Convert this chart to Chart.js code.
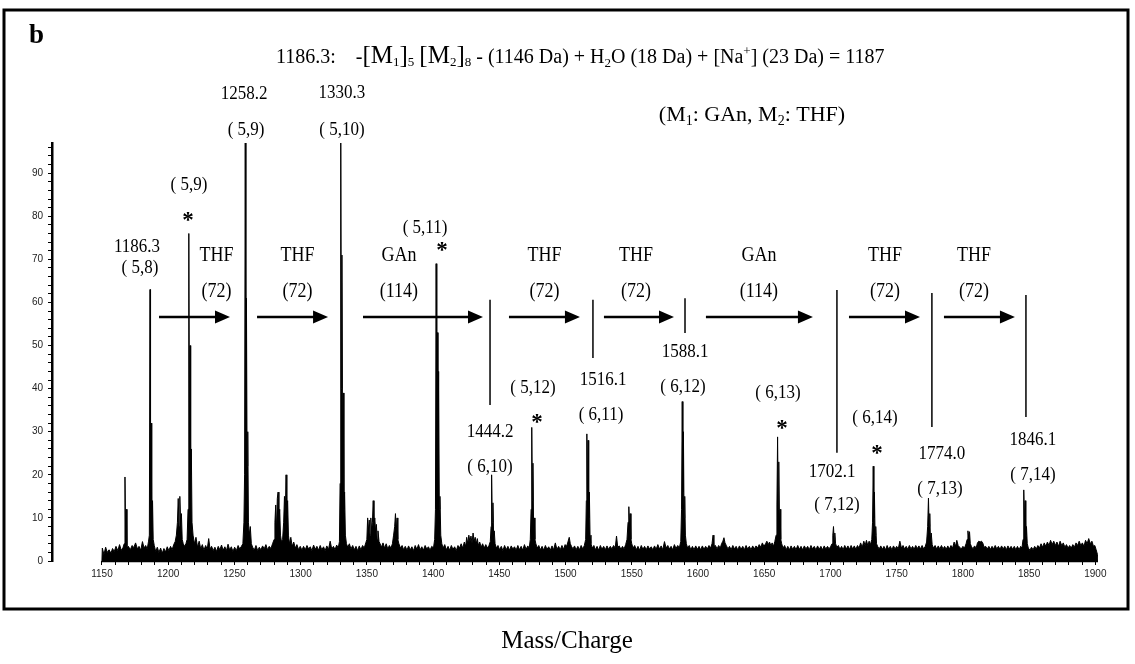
<!DOCTYPE html>
<html>
<head>
<meta charset="utf-8">
<script src="https://cdn.jsdelivr.net/npm/chart.js"></script>
<style>
  html, body { margin: 0; padding: 0; background: #fff; }
</style>
</head>
<body>
<canvas id="espectro" width="1135" height="664"></canvas>
<script>
// Trazas del espectro [m/z, intensidad %] leídas tramo a tramo
const trace1150 = [[1150,0],[1150.3,3],[1151.5,1.5],[1152.8,3.2],[1154,2],[1155.4,2.6],[1156.8,1.8],[1158,2.9],[1159.3,2.2],[1160.6,3.4],[1162,2.4],[1163.3,3.8],[1164.6,2.5],[1165.8,3],[1166.8,4],[1167.4,19.5],[1167.9,6],[1168.4,12],[1168.9,3],[1170,3.4],[1171.4,2.6],[1172.8,3.6],[1174,3.1],[1175.4,4.2],[1176.8,2.8],[1178,3.4],[1179.3,2.5],[1180.6,4.5],[1181.8,3],[1183,3.6],[1184.2,2.8],[1185.2,4.6],[1185.8,6],[1186.3,63],[1186.7,10],[1187.2,32],[1187.6,8],[1188.2,14],[1188.7,5],[1189.5,3.6],[1190.6,2.2],[1191.8,3.2],[1193,2],[1194.3,3],[1195.5,1.8],[1196.8,2.9],[1198,2.1],[1199.3,3.3]];
const trace1200 = [[1200.5,2.4],[1201.8,3.4],[1203,2.6],[1204.2,3.8],[1205.3,4.5],[1206.2,6],[1207,9],[1207.6,14.5],[1208.2,8],[1208.8,15],[1209.4,9],[1210,11],[1210.6,5],[1211.4,4],[1212.4,3.4],[1213.4,4],[1214.3,5],[1215,12],[1215.6,76],[1216.1,26],[1216.5,50],[1217,20],[1217.5,26],[1218,9],[1218.8,6],[1219.8,4],[1221,5.5],[1222.2,3.2],[1223.4,4.6],[1224.6,2.8],[1225.8,3.8],[1227,2.5],[1228.3,3.6],[1229.5,2.7],[1230.6,5.2],[1231.6,2.8],[1232.8,3.4],[1234,2.4],[1235.3,3.2],[1236.5,2.2],[1237.8,3.4],[1239,2.6],[1240.3,3.7],[1241.5,2.5],[1242.8,3.3],[1244,2.4],[1245.2,3.9],[1246.4,2.6],[1247.7,3.3],[1248.9,2.2]];
const trace1250 = [[1250.2,3.2],[1251.5,2.4],[1252.8,3.6],[1254,2.8],[1255.3,3.4],[1256.4,4],[1257.2,9],[1257.7,20],[1258.2,100],[1258.7,30],[1259.1,61],[1259.6,22],[1260.1,30],[1260.6,9],[1261.2,6],[1262,8],[1262.8,4],[1263.8,3.2],[1265,2.5],[1266.3,3.6],[1267.6,2.4],[1268.8,3.2],[1270,2.6],[1271.3,3.5],[1272.5,2.8],[1273.8,3.8],[1275,2.6],[1276.3,3.4],[1277.6,2.9],[1278.8,4],[1280,5],[1280.6,9],[1281.2,13],[1281.8,7],[1282.4,14.5],[1283,16],[1283.6,9],[1284.2,12],[1284.8,6],[1285.5,4.5],[1286.4,5],[1287.2,9],[1287.8,15],[1288.4,10],[1289,20],[1289.6,11],[1290.2,14],[1290.8,6],[1291.6,4],[1292.6,5.5],[1293.6,3.4],[1294.8,4.4],[1296,3],[1297.2,3.8],[1298.5,2.6],[1299.7,3.4]];
const trace1300 = [[1301,2.5],[1302.2,3.4],[1303.5,2.6],[1304.8,3.6],[1306,2.8],[1307.3,3.3],[1308.5,2.4],[1309.8,3.7],[1311,2.7],[1312.3,3.4],[1313.5,2.5],[1314.8,3.6],[1316,2.6],[1317.3,3.3],[1318.5,2.4],[1319.8,3.5],[1321,2.6],[1322.3,4.6],[1323.5,2.8],[1324.8,3.4],[1326,2.6],[1327.2,3.7],[1328.4,3],[1329.3,4.5],[1329.8,18],[1330.3,100],[1330.8,40],[1331.2,71],[1331.7,25],[1332.2,39],[1332.7,12],[1333.2,16],[1333.8,6],[1334.6,4],[1335.6,3.2],[1336.8,4],[1338,2.8],[1339.3,3.6],[1340.5,2.6],[1341.8,3.4],[1343,2.4],[1344.3,3.5],[1345.5,2.6],[1346.8,3.6],[1348,3],[1349.2,4.2]];
const trace1350 = [[1350,5],[1350.6,10],[1351.2,7],[1351.8,9.5],[1352.4,6],[1353,10],[1353.6,7],[1354.2,9],[1354.8,14],[1355.4,8],[1356,10],[1356.6,7],[1357.2,8.5],[1357.8,5],[1358.4,7],[1359.2,4.5],[1360,4],[1361,3.2],[1362.2,4.2],[1363.4,3],[1364.6,4],[1365.8,2.8],[1367,3.6],[1368.2,3],[1369.3,4],[1370.2,6],[1371,8],[1371.6,11],[1372.2,7],[1372.8,10],[1373.4,5],[1374.2,4],[1375.4,3],[1376.6,3.6],[1377.8,2.6],[1379,3.4],[1380.3,2.5],[1381.5,3.5],[1382.8,2.6],[1384,3.3],[1385.3,2.4],[1386.5,3.6],[1387.8,2.7],[1389,3.8],[1390.2,2.6],[1391.5,3.3],[1392.7,2.5],[1394,3.6],[1395.2,2.8],[1396.5,3.3],[1397.7,2.5],[1399,3.4]];
const trace1400 = [[1400.3,3],[1401.2,5],[1401.8,12],[1402.3,69],[1402.8,30],[1403.2,53],[1403.7,20],[1404.2,44],[1404.7,12],[1405.2,15],[1405.8,6],[1406.6,4],[1407.6,3],[1408.8,3.8],[1410,2.6],[1411.3,3.4],[1412.5,2.5],[1413.8,3.6],[1415,2.7],[1416.3,3.3],[1417.5,2.4],[1418.8,3.6],[1420,3],[1421.2,4],[1422.4,3],[1423.6,4.4],[1424.6,3.4],[1425.4,5.5],[1426.2,4],[1427,6],[1427.8,4.5],[1428.6,5.8],[1429.4,4.2],[1430.2,6.5],[1431,4.6],[1431.8,5.5],[1432.6,4],[1433.4,5.2],[1434.2,3.6],[1435.2,4.4],[1436.3,3.2],[1437.4,4],[1438.6,3],[1439.8,3.8],[1441,3],[1442.2,3.6],[1443.2,4.5],[1443.8,8],[1444.2,20],[1444.7,9],[1445.2,13.5],[1445.7,6],[1446.2,7],[1446.8,4],[1447.8,3],[1449,3.6]];
const trace1450 = [[1450.2,2.6],[1451.5,3.4],[1452.7,2.4],[1454,3.6],[1455.2,2.6],[1456.5,3.4],[1457.7,2.5],[1459,3.5],[1460.2,2.8],[1461.5,3.3],[1462.7,2.5],[1464,3.6],[1465.2,2.6],[1466.5,3.4],[1467.7,2.5],[1469,3.8],[1470.2,2.7],[1471.5,3.5],[1472.6,3],[1473.4,5],[1474,12],[1474.5,31],[1475,14],[1475.4,22.7],[1475.9,8],[1476.4,10],[1476.9,5],[1477.6,4],[1478.6,3],[1479.8,3.6],[1481,2.6],[1482.3,3.4],[1483.5,2.5],[1484.8,3.6],[1486,2.7],[1487.3,3.3],[1488.5,2.5],[1489.8,3.5],[1491,2.6],[1492.3,4.2],[1493.5,2.7],[1494.8,3.4],[1496,2.6],[1497.3,3.6],[1498.5,2.7],[1499.7,3.8]];
const trace1500 = [[1500.8,3.4],[1501.8,4.4],[1502.8,5.5],[1503.6,4],[1504.5,3.4],[1505.6,2.8],[1506.8,3.5],[1508,2.6],[1509.3,3.4],[1510.5,2.6],[1511.8,3.6],[1513,2.8],[1514.2,3.6],[1515.2,5],[1515.7,14],[1516.1,29.5],[1516.6,13],[1517,28],[1517.5,10],[1518,16],[1518.5,6],[1519.2,4],[1520.2,3],[1521.4,3.6],[1522.6,2.6],[1523.8,3.4],[1525,2.5],[1526.3,3.6],[1527.5,2.7],[1528.8,3.4],[1530,2.6],[1531.3,3.5],[1532.5,2.7],[1533.8,3.4],[1535,2.8],[1536.3,3.6],[1537.5,3],[1538.5,5.8],[1539.4,3.2],[1540.6,3.5],[1541.8,2.7],[1543,3.4],[1544.2,2.8],[1545.4,3.8],[1546.4,5],[1547.2,9],[1547.8,12.6],[1548.3,8],[1548.8,11],[1549.4,5],[1550,4]];
const trace1550 = [[1551,3],[1552.2,3.6],[1553.4,2.6],[1554.7,3.4],[1555.9,2.5],[1557.2,3.6],[1558.4,2.7],[1559.7,3.4],[1560.9,2.6],[1562.2,3.5],[1563.4,2.8],[1564.7,3.3],[1565.9,2.6],[1567.2,3.5],[1568.4,2.7],[1569.7,3.8],[1570.9,2.8],[1572.2,3.5],[1573.4,2.6],[1574.7,4.5],[1575.9,3],[1577.2,3.6],[1578.4,2.8],[1579.7,3.4],[1580.9,2.6],[1582.2,3.8],[1583.4,2.9],[1584.7,3.6],[1585.9,3],[1587,4.5],[1587.6,12],[1588.1,37],[1588.6,16],[1589,30],[1589.5,10],[1590,15],[1590.5,6],[1591.2,4],[1592.2,3],[1593.4,3.6],[1594.6,2.6],[1595.8,3.4],[1597,2.6],[1598.3,3.5],[1599.5,2.7]];
const trace1600 = [[1600.8,3.4],[1602,2.6],[1603.3,3.5],[1604.5,2.7],[1605.8,3.4],[1607,2.8],[1608.3,3.6],[1609.5,3],[1610.6,4],[1611.4,6],[1612,3.4],[1613.2,3.6],[1614.4,2.8],[1615.6,3.6],[1616.8,3],[1617.8,4],[1618.8,4.6],[1619.6,5.4],[1620.4,4.2],[1621.4,3.6],[1622.6,2.8],[1623.8,3.4],[1625,2.6],[1626.3,3.6],[1627.5,2.8],[1628.8,3.4],[1630,2.6],[1631.3,3.5],[1632.5,2.7],[1633.8,3.4],[1635,2.6],[1636.3,3.6],[1637.5,2.8],[1638.8,3.4],[1640,2.6],[1641.3,3.5],[1642.5,2.8],[1643.8,3.5],[1645,3],[1646.2,3.8],[1647.4,3.2],[1648.6,4.2],[1649.8,3.4]];
const trace1650 = [[1651,4],[1652,4.6],[1653,3.8],[1654,4.4],[1655,3.6],[1656,4.2],[1657,3.4],[1658,4.5],[1659,6],[1659.6,13],[1660.1,28.8],[1660.6,12],[1661,23],[1661.5,9],[1662,12],[1662.5,5],[1663.2,4],[1664.2,3],[1665.4,3.6],[1666.6,2.6],[1667.8,3.4],[1669,2.6],[1670.3,3.5],[1671.5,2.7],[1672.8,3.4],[1674,2.6],[1675.3,3.6],[1676.5,2.7],[1677.8,3.4],[1679,2.6],[1680.3,3.5],[1681.5,2.8],[1682.8,3.4],[1684,2.6],[1685.3,3.6],[1686.5,2.8],[1687.8,3.4],[1689,2.6],[1690.3,3.5],[1691.5,2.7],[1692.8,3.4],[1694,2.6],[1695.3,3.5],[1696.5,2.8],[1697.8,3.4],[1699,2.8]];
const trace1700 = [[1700.2,3.4],[1701.2,4],[1701.8,6],[1702.3,8],[1702.8,5],[1703.3,6.5],[1703.9,4],[1704.8,3.2],[1706,3.6],[1707.2,2.7],[1708.4,3.4],[1709.6,2.6],[1710.8,3.6],[1712,2.8],[1713.2,3.5],[1714.4,2.7],[1715.6,3.6],[1716.8,2.8],[1718,3.5],[1719.2,2.7],[1720.4,3.6],[1721.6,3],[1722.8,4.2],[1724,3.2],[1725.2,4.6],[1726.2,3.6],[1727.2,4.8],[1728.2,3.6],[1729.2,4.6],[1730.2,3.8],[1731.2,5],[1731.8,9],[1732.3,22],[1732.8,10],[1733.2,16],[1733.7,6],[1734.2,8],[1734.8,4],[1735.6,3.4],[1736.8,2.8],[1738,3.5],[1739.2,2.7],[1740.4,3.4],[1741.6,2.6],[1742.8,3.6],[1744,2.7],[1745.2,3.4],[1746.4,2.6],[1747.6,3.5],[1748.8,2.8]];
const trace1750 = [[1750,3.4],[1751.2,2.8],[1752.4,4.6],[1753.6,3],[1754.8,3.6],[1756,2.8],[1757.2,3.4],[1758.4,2.7],[1759.6,3.6],[1760.8,2.8],[1762,3.4],[1763.2,2.7],[1764.4,3.6],[1765.6,2.9],[1766.8,3.5],[1768,2.8],[1769.2,3.6],[1770.4,2.8],[1771.6,3.4],[1772.6,4.4],[1773.4,8],[1774,14.6],[1774.5,8],[1775,11],[1775.5,5],[1776.1,6.5],[1776.8,3.8],[1777.8,3],[1779,3.6],[1780.2,2.8],[1781.4,3.5],[1782.6,2.8],[1783.8,3.6],[1785,2.8],[1786.2,3.4],[1787.4,2.7],[1788.6,3.5],[1789.8,2.8],[1791,3.6],[1792.2,3],[1793.4,4.4],[1794.4,3.4],[1795.4,4.8],[1796.4,3.6],[1797.6,3.2],[1798.8,2.8]];
const trace1800 = [[1800,3.4],[1801.2,3],[1802.4,4],[1803.2,5],[1803.8,7],[1804.4,5.5],[1805,6.8],[1805.6,4],[1806.4,3.4],[1807.6,2.8],[1808.8,3.5],[1810,3],[1811,4.2],[1812,4.6],[1813,4.4],[1814,4.6],[1815,4.2],[1816,3.2],[1817.2,3.4],[1818.4,2.8],[1819.6,3.4],[1820.8,2.7],[1822,3.4],[1823.2,2.8],[1824.4,3.6],[1825.6,2.8],[1826.8,3.4],[1828,2.7],[1829.2,3.5],[1830.4,2.8],[1831.6,3.4],[1832.8,2.6],[1834,3.5],[1835.2,2.8],[1836.4,3.4],[1837.6,2.7],[1838.8,3.4],[1840,2.6],[1841.2,3.4],[1842.4,2.6],[1843.6,3.4],[1844.6,3],[1845.4,5],[1845.8,9],[1846.1,16.5],[1846.6,9],[1847,14],[1847.5,6],[1848,8],[1848.6,4],[1849.4,3]];
const trace1850 = [[1850.6,2.5],[1851.8,3.2],[1853,2.6],[1854.2,3.4],[1855.4,2.8],[1856.6,3.6],[1857.8,3],[1859,4],[1860.2,3.2],[1861.4,4.2],[1862.6,3.4],[1863.8,4.4],[1865,3.6],[1866.2,4.8],[1867.4,3.8],[1868.6,4.6],[1869.8,3.6],[1871,4.4],[1872.2,3.4],[1873.4,4.6],[1874.6,3.6],[1875.8,4.2],[1877,3.2],[1878.2,3.8],[1879.4,3],[1880.6,3.6],[1881.8,3],[1883,3.8],[1884.2,3.2],[1885.4,4.2],[1886.6,3.6],[1887.8,4.6],[1889,3.6],[1890.2,4.2],[1891.4,3.4],[1892.6,4.8],[1893.8,4],[1895,5.2],[1896.2,4],[1897.4,4.6],[1898.6,3.4],[1899.6,3.6],[1900.6,2.6],[1901.6,1.5],[1902,0]];

// Etiquetas de los ejes
const etiquetasX = [1150, 1200, 1250, 1300, 1350, 1400, 1450, 1500, 1550, 1600, 1650, 1700, 1750, 1800, 1850, 1900];
const etiquetasY = [0, 10, 20, 30, 40, 50, 60, 70, 80, 90];

// Anotaciones de picos: texto, m/z, altura (%)
const anotPicos = [
  ["1186.3", 1176.5, 72.9], ["( 5,8)", 1178.7, 68.0],
  ["1258.2", 1257.3, 108.4], ["( 5,9)", 1258.8, 100],
  ["1330.3", 1331.2, 108.6], ["( 5,10)", 1331.2, 100],
  ["( 5,9)", 1215.7, 87.2],
  ["( 5,11)", 1393.9, 77.3],
  ["1444.2", 1443, 29.9], ["( 6,10)", 1443, 21.8],
  ["( 5,12)", 1475.4, 40.1],
  ["1516.1", 1528.3, 42], ["( 6,11)", 1526.8, 33.9],
  ["1588.1", 1590.2, 48.5], ["( 6,12)", 1588.7, 40.4],
  ["( 6,13)", 1660.4, 39],
  ["1702.1", 1701.2, 20.6], ["( 7,12)", 1704.9, 13],
  ["( 6,14)", 1733.6, 33.2],
  ["1774.0", 1784.2, 24.8], ["( 7,13)", 1782.7, 16.7],
  ["1846.1", 1852.9, 28.1], ["( 7,14)", 1852.9, 20]
];
const asteriscos = [[1215, 80.3], [1406.7, 73.3], [1478.4, 33.4], [1663.4, 32], [1735.1, 26.2]];

// Incrementos de monómero: nombre, masa, centro del texto, flecha desde/hasta
const incrementos = [
  ["THF", "(72)", 1236.5, 1193.1, 1246.7],
  ["THF", "(72)", 1297.6, 1267.1, 1320.7],
  ["GAn", "(114)", 1374.2, 1347.1, 1437.7],
  ["THF", "(72)", 1484.1, 1457.3, 1510.9],
  ["THF", "(72)", 1553.2, 1529.0, 1581.9],
  ["GAn", "(114)", 1646.0, 1606.0, 1686.8],
  ["THF", "(72)", 1741.2, 1714.0, 1767.6],
  ["THF", "(72)", 1808.4, 1785.7, 1839.3]
];
// Líneas verticales de referencia sobre los picos: m/z, desde, hasta
const marcas = [[1443, 60.6, 36.2], [1520.7, 60.6, 47.1], [1590.2, 61, 52.9], [1704.9, 62.9, 25.1], [1776.6, 62.2, 31.1], [1847.6, 61.7, 33.4]];

const espectro = [].concat(trace1150, trace1200, trace1250, trace1300, trace1350, trace1400, trace1450,
  trace1500, trace1550, trace1600, trace1650, trace1700, trace1750, trace1800, trace1850)
  .map(p => ({ x: p[0], y: p[1] }));

const SERIF = '"Liberation Serif", "Times New Roman", serif';

// Texto con subíndices: partes = [texto, tamaño, desplazamiento]
function textoCompuesto(ctx, partes, x, y, centrado) {
  let ancho = 0;
  partes.forEach(p => { ctx.font = p[1] + "px " + SERIF; ancho += ctx.measureText(p[0]).width; });
  let cx = centrado ? x - ancho / 2 : x;
  ctx.textAlign = "left";
  ctx.textBaseline = "alphabetic";
  partes.forEach(p => {
    ctx.font = p[1] + "px " + SERIF;
    ctx.fillText(p[0], cx, y + p[2]);
    cx += ctx.measureText(p[0]).width;
  });
}

// texto algo estirado en vertical, como en la figura original
function textoAlto(ctx, txt, x, y, k) {
  ctx.save();
  ctx.translate(x, y);
  ctx.scale(1, k);
  ctx.fillText(txt, 0, 0);
  ctx.restore();
}

const pluginAnotaciones = {
  id: "anotaciones",
  afterDraw(chart) {
    const ctx = chart.ctx;
    const sx = chart.scales.x, sy = chart.scales.y;
    const area = chart.chartArea;
    ctx.save();
    ctx.fillStyle = "#000";
    ctx.strokeStyle = "#000";

    // eje x a partir de 1150
    ctx.lineWidth = 1.5;
    ctx.beginPath();
    ctx.moveTo(sx.getPixelForValue(1150), area.bottom + 0.5);
    ctx.lineTo(area.right, area.bottom + 0.5);
    ctx.stroke();

    // etiquetas de los picos
    ctx.textAlign = "center";
    ctx.textBaseline = "middle";
    ctx.font = "17px " + SERIF;
    anotPicos.forEach(a => textoAlto(ctx, a[0], sx.getPixelForValue(a[1]), sy.getPixelForValue(a[2]), 1.12));

    ctx.font = "bold 23px " + SERIF;
    ctx.textBaseline = "alphabetic";
    asteriscos.forEach(a => ctx.fillText("*", sx.getPixelForValue(a[0]), sy.getPixelForValue(a[1]) + 12));

    // incrementos con flecha
    ctx.textBaseline = "middle";
    ctx.font = "18px " + SERIF;
    incrementos.forEach(i => {
      const cx = sx.getPixelForValue(i[2]);
      textoAlto(ctx, i[0], cx, sy.getPixelForValue(71), 1.18);
      textoAlto(ctx, i[1], cx, sy.getPixelForValue(62.6), 1.18);
      const x1 = sx.getPixelForValue(i[3]), x2 = sx.getPixelForValue(i[4]);
      const y = sy.getPixelForValue(56.6);
      ctx.lineWidth = 2.5;
      ctx.beginPath();
      ctx.moveTo(x1, y);
      ctx.lineTo(x2 - 12, y);
      ctx.stroke();
      ctx.beginPath();
      ctx.moveTo(x2, y);
      ctx.lineTo(x2 - 15, y - 6.5);
      ctx.lineTo(x2 - 15, y + 6.5);
      ctx.closePath();
      ctx.fill();
    });

    ctx.lineWidth = 1.5;
    marcas.forEach(m => {
      const x = sx.getPixelForValue(m[0]);
      ctx.beginPath();
      ctx.moveTo(x, sy.getPixelForValue(m[1]));
      ctx.lineTo(x, sy.getPixelForValue(m[2]));
      ctx.stroke();
    });

    // letra del panel y fórmula
    ctx.font = "bold 27px " + SERIF;
    ctx.textAlign = "left";
    ctx.textBaseline = "alphabetic";
    ctx.fillText("b", 29, 43);

    textoCompuesto(ctx, [
      ["1186.3:", 20, 0], ["    -", 20, 0], ["[M", 25, 0], ["1", 13, 3], ["]", 25, 0], ["5", 13, 3],
      [" ", 20, 0], ["[M", 25, 0], ["2", 13, 3], ["]", 25, 0], ["8", 13, 3],
      [" - (1146 Da) + H", 20, 0], ["2", 13, 4], ["O (18 Da) + [Na", 20, 0], ["+", 13, -8],
      ["] (23 Da) = 1187", 20, 0]
    ], 276, 63, false);
    textoCompuesto(ctx, [
      ["(M", 22, 0], ["1", 14, 4], [": GAn, M", 22, 0], ["2", 14, 4], [": THF)", 22, 0]
    ], 752, 121, true);

    // marco
    ctx.lineWidth = 3;
    ctx.strokeRect(4, 10, 1124, 599);

    ctx.font = "25px " + SERIF;
    ctx.textAlign = "center";
    ctx.fillText("Mass/Charge", 567, 648);
    ctx.restore();
  }
};

const ctx = document.getElementById("espectro").getContext("2d");
const grafico = new Chart(ctx, {
  type: "line",
  data: {
    datasets: [{
      label: "Espectro",
      data: espectro,
      borderColor: "#000",
      backgroundColor: "#000",
      borderWidth: 1,
      pointRadius: 0,
      tension: 0,
      fill: "origin",
    }],
  },
  options: {
    responsive: false,
    animation: false,
    devicePixelRatio: 1,
    layout: { padding: { top: 143, right: 37, bottom: 0, left: 0 } },
    plugins: {
      legend: { display: false },
      tooltip: { enabled: false },
    },
    scales: {
      x: {
        type: "linear",
        min: 1112.3,
        max: 1902,
        afterBuildTicks: (s) => {
          const t = [];
          for (let v = 1150; v <= 1900; v += 10) t.push({ value: v });
          s.ticks = t;
        },
        afterFit: (s) => { s.height = 103; },
        border: { display: false },
        grid: { drawOnChartArea: false, tickLength: 4, color: "#000", tickWidth: 1 },
        ticks: {
          autoSkip: false,
          maxRotation: 0,
          padding: 3,
          color: "#222",
          font: { family: "Liberation Sans", size: 10 },
          callback: (v) => (etiquetasX.includes(v) ? String(v) : ""),
        },
      },
      y: {
        min: 0,
        max: 97,
        afterBuildTicks: (s) => {
          const t = [];
          for (let v = 0; v <= 96; v += 2) t.push({ value: v });
          s.ticks = t;
        },
        afterFit: (s) => { s.width = 52; },
        border: { display: true, color: "#000", width: 2.5 },
        grid: { drawOnChartArea: false, tickLength: 4, color: "#000" },
        ticks: {
          autoSkip: false,
          padding: 5,
          color: "#222",
          font: { family: "Liberation Sans", size: 10 },
          callback: (v) => (etiquetasY.includes(v) ? String(v) : ""),
        },
      },
    },
  },
  plugins: [pluginAnotaciones],
});
</script>
</body>
</html>
